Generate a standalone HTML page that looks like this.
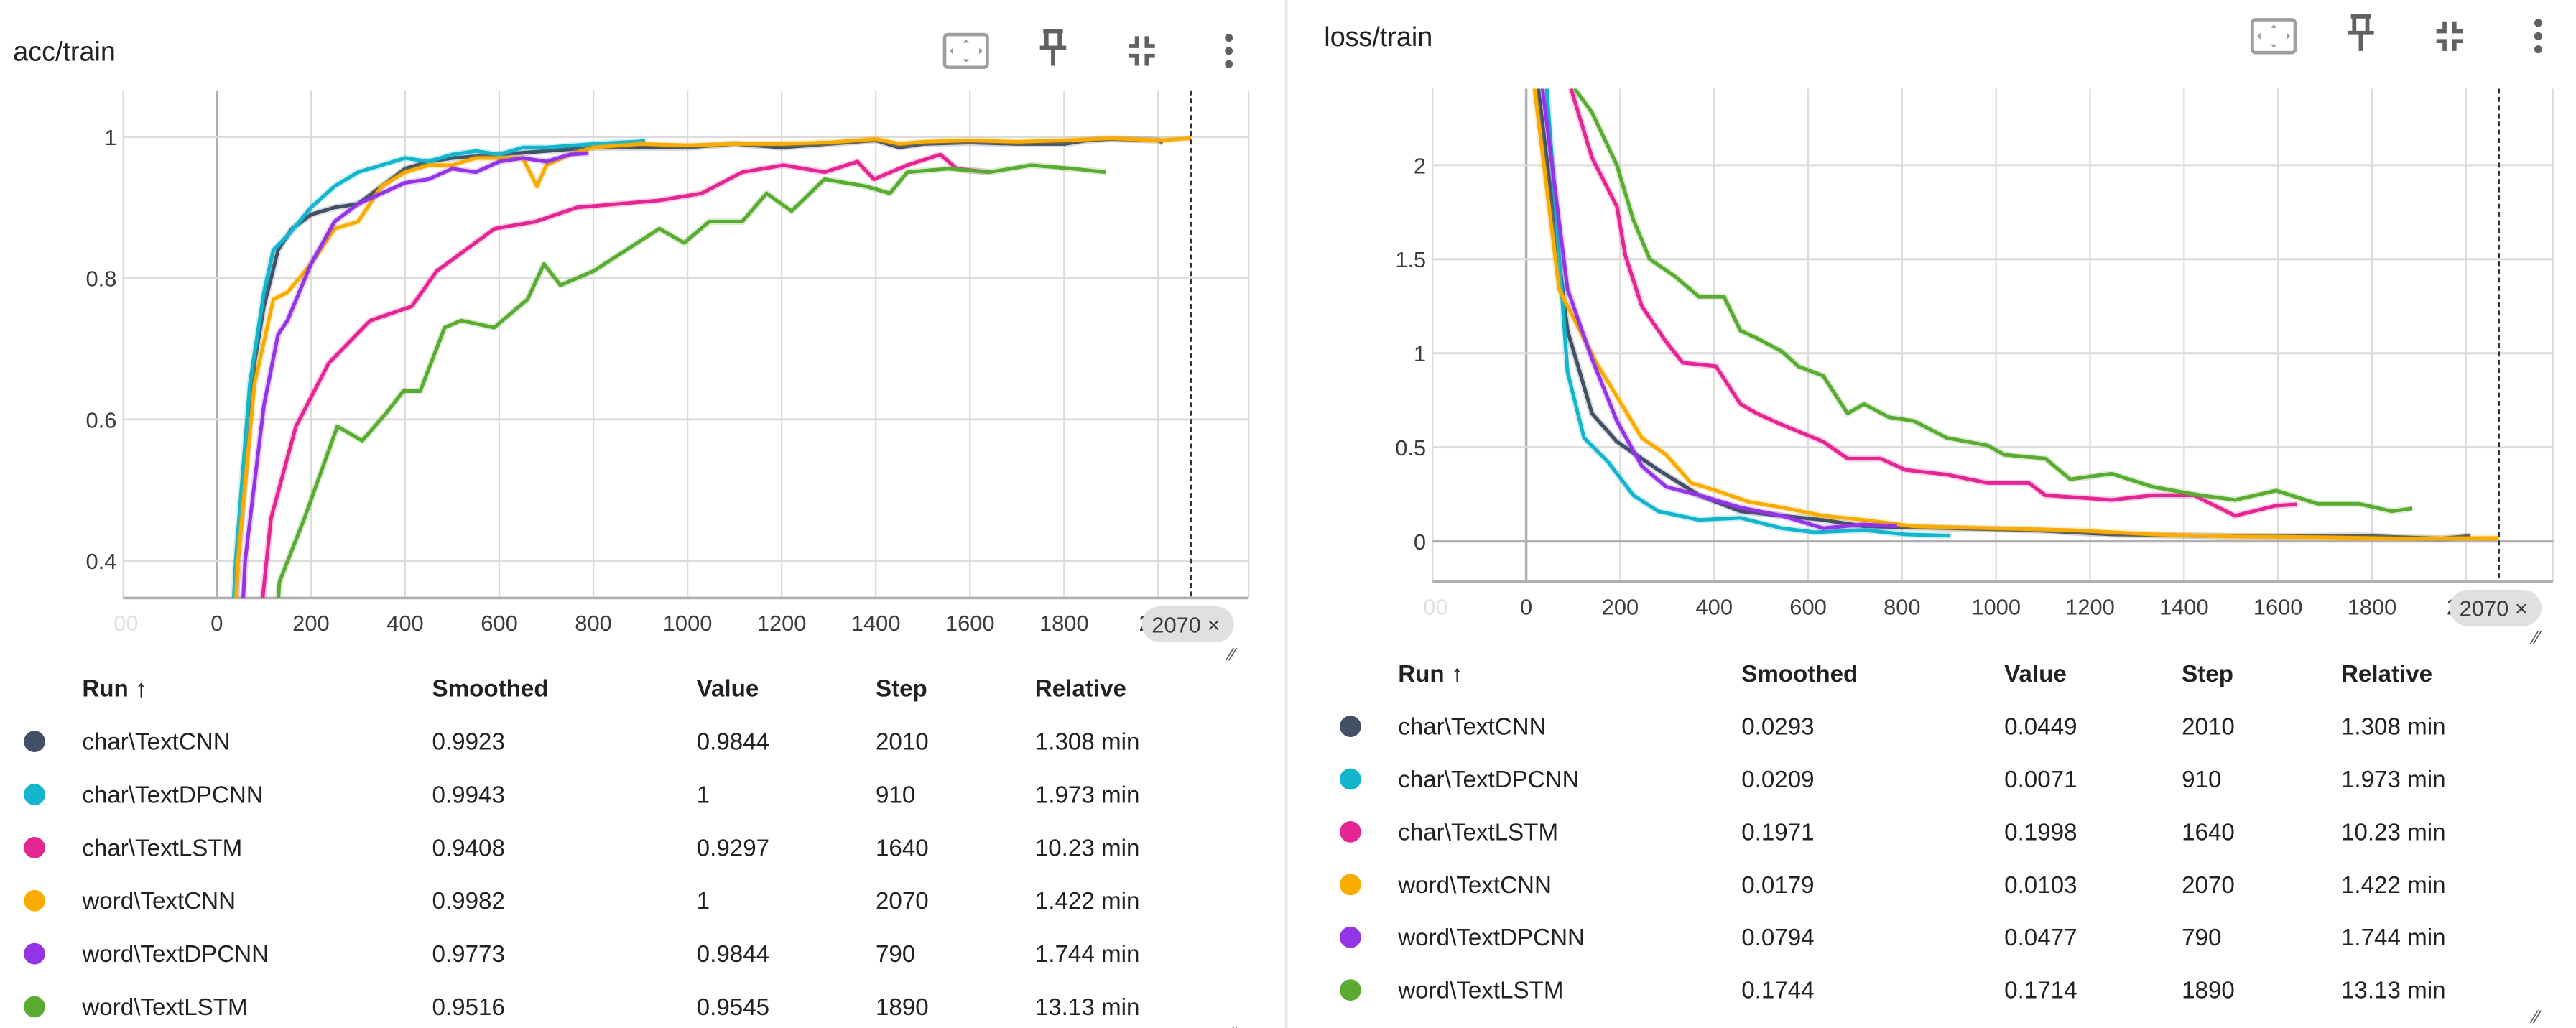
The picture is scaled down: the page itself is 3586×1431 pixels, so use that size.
<!DOCTYPE html>
<html><head><meta charset="utf-8"><style>
html,body{margin:0;padding:0;background:#fff;}
svg{display:block;font-family:"Liberation Sans",sans-serif;}
</style></head><body>
<svg id="root" width="3586" height="1431" viewBox="0 0 1568 625.7" preserveAspectRatio="none" xmlns="http://www.w3.org/2000/svg">
<defs>
<clipPath id="clipA"><rect x="75" y="55" width="685" height="309"/></clipPath>
<clipPath id="clipB"><rect x="872" y="54" width="682" height="300"/></clipPath>
</defs>
<line x1="783" y1="0" x2="783" y2="626" stroke="#e6e6e6" stroke-width="1.5"/>
<g id="panelA"></g>
<g id="panelB"></g>
</svg>
<script>
// ---------- data ----------
const runNames = ["char\\TextCNN","char\\TextDPCNN","char\\TextLSTM","word\\TextCNN","word\\TextDPCNN","word\\TextLSTM"];
const runColors = ["#425066","#12b5cb","#e52592","#f9ab00","#9334e6","#5aab32"];
// acc/train
const accStepsCharCNN = [30,45,80,100,130,160,200,250,300,350,400,450,500,600,700,800,900,1000,1100,1200,1300,1400,1450,1500,1600,1700,1800,1850,1900,2000,2010];
const accCharCNN = [0.2,0.4,0.68,0.76,0.84,0.87,0.89,0.90,0.905,0.93,0.955,0.965,0.97,0.975,0.98,0.985,0.985,0.985,0.99,0.985,0.99,0.995,0.985,0.99,0.992,0.99,0.99,0.995,0.997,0.995,0.992];
const accStepsCharDP = [25,40,70,100,120,150,200,250,300,350,400,450,500,550,600,650,700,800,910];
const accCharDP = [0.2,0.4,0.65,0.78,0.84,0.86,0.90,0.93,0.95,0.96,0.97,0.965,0.975,0.98,0.975,0.985,0.985,0.99,0.994];
const accStepsCharLSTM = [75,90,115,168,238,326,414,467,590,677,765,940,1030,1116,1204,1291,1361,1396,1467,1537,1572,1640];
const accCharLSTM = [0.2,0.3,0.46,0.59,0.68,0.74,0.76,0.81,0.87,0.88,0.90,0.91,0.92,0.95,0.96,0.95,0.965,0.94,0.96,0.975,0.955,0.95];
const accStepsWordCNN = [30,45,80,120,150,200,250,300,350,400,450,500,550,600,650,680,700,750,800,900,1000,1100,1200,1300,1400,1450,1500,1600,1700,1800,1900,2000,2070];
const accWordCNN = [0.2,0.4,0.65,0.77,0.78,0.82,0.87,0.88,0.93,0.95,0.96,0.96,0.97,0.97,0.97,0.93,0.96,0.975,0.985,0.99,0.988,0.99,0.99,0.992,0.997,0.99,0.993,0.995,0.993,0.995,0.998,0.995,0.998];
const accStepsWordDP = [45,60,100,130,150,200,250,300,350,400,450,500,550,600,650,700,750,790];
const accWordDP = [0.2,0.4,0.62,0.72,0.74,0.82,0.88,0.905,0.92,0.935,0.94,0.955,0.95,0.965,0.97,0.965,0.975,0.977];
const accStepsWordLSTM = [115,133,186,256,309,361,396,432,484,519,589,660,695,730,800,870,940,993,1046,1116,1168,1221,1291,1379,1430,1467,1554,1642,1730,1818,1888];
const accWordLSTM = [0.2,0.37,0.46,0.59,0.57,0.61,0.64,0.64,0.73,0.74,0.73,0.77,0.82,0.79,0.81,0.84,0.87,0.85,0.88,0.88,0.92,0.895,0.94,0.93,0.92,0.95,0.955,0.95,0.96,0.955,0.95];
// loss/train
const lossStepsCharCNN = [15,26,88,140,193,281,368,456,544,632,719,895,1070,1246,1421,1596,1772,1947,2010];
const lossCharCNN = [3.0,2.4,1.12,0.68,0.53,0.38,0.245,0.16,0.136,0.114,0.08,0.07,0.06,0.037,0.03,0.026,0.03,0.015,0.029];
const lossStepsCharDP = [30,44,88,123,175,228,281,368,456,544,614,719,807,903];
const lossCharDP = [3.0,2.4,0.90,0.55,0.42,0.245,0.16,0.114,0.125,0.07,0.048,0.06,0.037,0.03];
const lossStepsCharLSTM = [80,96,140,193,211,246,298,333,404,456,491,544,632,684,754,807,895,982,1070,1105,1246,1333,1421,1509,1596,1640];
const lossCharLSTM = [3.0,2.4,2.04,1.78,1.52,1.25,1.06,0.95,0.93,0.73,0.68,0.62,0.53,0.44,0.44,0.38,0.355,0.31,0.31,0.245,0.22,0.245,0.245,0.136,0.19,0.197];
const lossStepsWordCNN = [8,18,70,149,193,246,298,351,404,474,544,632,719,825,982,1158,1333,1509,1684,1860,2070];
const lossWordCNN = [3.0,2.4,1.34,0.95,0.77,0.55,0.46,0.31,0.27,0.21,0.18,0.136,0.114,0.08,0.07,0.06,0.037,0.026,0.022,0.015,0.018];
const lossStepsWordDP = [22,35,88,140,193,246,298,368,456,544,632,719,789];
const lossWordDP = [3.0,2.4,1.34,0.97,0.64,0.40,0.29,0.245,0.18,0.136,0.07,0.09,0.08];
const lossStepsWordLSTM = [90,105,140,193,228,263,316,368,421,456,491,544,579,632,684,719,772,825,895,982,1018,1105,1158,1246,1333,1421,1509,1596,1684,1772,1842,1886];
const lossWordLSTM = [3.0,2.4,2.28,2.0,1.71,1.5,1.41,1.30,1.30,1.12,1.08,1.01,0.93,0.88,0.68,0.73,0.66,0.64,0.55,0.51,0.46,0.44,0.33,0.36,0.29,0.25,0.22,0.27,0.2,0.2,0.16,0.175];
const xTicks = [0,200,400,600,800,1000,1200,1400,1600,1800];
const accTicks = [0.4,0.6,0.8,1];
const lossTicks = [0,0.5,1,1.5,2];
const accSmoothed = ["0.9923","0.9943","0.9408","0.9982","0.9773","0.9516"];
const accValue = ["0.9844","1","0.9297","1","0.9844","0.9545"];
const accStep = ["2010","910","1640","2070","790","1890"];
const accRel = ["1.308 min","1.973 min","10.23 min","1.422 min","1.744 min","13.13 min"];
const lossSmoothed = ["0.0293","0.0209","0.1971","0.0179","0.0794","0.1744"];
const lossValue = ["0.0449","0.0071","0.1998","0.0103","0.0477","0.1714"];
const lossStep = accStep;
const lossRel = accRel;

const NS="http://www.w3.org/2000/svg";
function mk(parent, tag, attrs, text){
  const e=document.createElementNS(NS,tag);
  for(const k in attrs) e.setAttribute(k,attrs[k]);
  if(text!==undefined) e.textContent=text;
  parent.appendChild(e); return e;
}

function panel(g, cfg){
  const {title,tx,ty,iconY,iconX,L,R,T,B,x0,pxPerStep,yAt,yTicks,clip,series,tableY,rowH,cols,vals,fmtTick} = cfg;
  const sx = s => x0 + s*pxPerStep;
  const t = mk(g,'text',{x:tx,y:ty,'font-size':16.5,fill:'#202124'},title);
  
  
  const names=['fit-domain-button','pin-button','collapse-button','more-menu-button'];
  iconX.forEach((ix,i)=>{
    const ig=mk(g,'g',{});
    
    
    if(i===0){
      mk(ig,'rect',{x:ix-13,y:iconY-10,width:26,height:20,rx:2,fill:'none',stroke:'#9e9e9e','stroke-width':2});
      mk(ig,'path',{d:`M${ix-2},${iconY-5}l2,-2l2,2zM${ix-2},${iconY+5}l2,2l2,-2zM${ix-8},${iconY-2}l-2,2l2,2zM${ix+8},${iconY-2}l2,2l-2,2z`,fill:'#9e9e9e'});
    }else if(i===1){
      mk(ig,'path',{d:`M${ix-6},${iconY-12}h12M${ix-4},${iconY-12}v9M${ix+4},${iconY-12}v9M${ix-8},${iconY-2}h16M${ix},${iconY-2}v11`,stroke:'#616161','stroke-width':2.5,fill:'none'});
    }else if(i===2){
      mk(ig,'path',{d:`M${ix-8},${iconY-3}h5v-6M${ix+8},${iconY-3}h-5v-6M${ix-8},${iconY+3}h5v6M${ix+8},${iconY+3}h-5v6`,stroke:'#616161','stroke-width':2.5,fill:'none'});
    }else{
      [-8,0,8].forEach(d=>mk(ig,'circle',{cx:ix,cy:iconY+d,r:2.4,fill:'#616161'}));
    }
  });
  const grid=mk(g,'g',{});  
  xTicks.concat([2000]).forEach(v=>{ mk(grid,'line',{x1:sx(v),x2:sx(v),y1:T,y2:B,stroke:v===0?'#b0b0b0':'#dcdcdc','stroke-width':v===0?1.5:1}); });
  mk(grid,'line',{x1:L,x2:L,y1:T,y2:B,stroke:'#dcdcdc','stroke-width':1});
  mk(grid,'line',{x1:R,x2:R,y1:T,y2:B,stroke:'#dcdcdc','stroke-width':1});
  yTicks.forEach(v=>{ mk(grid,'line',{x1:L,x2:R,y1:yAt(v),y2:yAt(v),stroke:v===0?'#b0b0b0':'#dcdcdc','stroke-width':v===0?1.5:1.3}); });
  mk(grid,'line',{x1:L,x2:R,y1:B,y2:B,stroke:'#b0b0b0','stroke-width':1.6});
  const xl=mk(g,'g',{'font-size':13.5,fill:'#3c3c3c','text-anchor':'middle'});
   
  mk(xl,'text',{x:sx(-200)+2,y:B+20,fill:'#e0e0e0'},'00');
  xTicks.forEach(v=>mk(xl,'text',{x:sx(v),y:B+20},String(v)));
  mk(xl,'text',{x:sx(2000)-8,y:B+20},'2');
  const yl=mk(g,'g',{'font-size':13.5,fill:'#3c3c3c','text-anchor':'end'});
   
  yTicks.forEach(v=>mk(yl,'text',{x:L-4,y:yAt(v)+5},fmtTick(v)));
  const sg=mk(g,'g',{'clip-path':`url(#${clip})`});
   
  series.forEach((s,i)=>{
    const d=s.steps.map((st,j)=>(j?'L':'M')+sx(st).toFixed(2)+','+yAt(s.vals[j]).toFixed(2)).join('');
    const raw=mk(sg,'path',{d,fill:'none',stroke:runColors[i],'stroke-opacity':0.22,'stroke-width':4,'stroke-linejoin':'round'});
    
    
    const p=mk(sg,'path',{d,fill:'none',stroke:runColors[i],'stroke-width':2.2,'stroke-linejoin':'round'});
    
    
  });
  const dl=mk(g,'line',{x1:sx(2070),x2:sx(2070),y1:T,y2:B,stroke:'#333','stroke-width':1.3,'stroke-dasharray':'3,2'});
   
  const chip=mk(g,'g',{});  
  mk(chip,'rect',{x:sx(2070)-30,y:B+5,width:56,height:22,rx:11,fill:'#e0e0e0'});
  mk(chip,'text',{x:sx(2070)-24,y:B+21,'font-size':13.5,fill:'#3c3c3c'},'2070 ×');
  mk(g,'text',{x:R-12,y:B+38,'font-size':11,fill:'#555'},'⁄⁄');
  const tb=mk(g,'g',{'font-size':14.5,fill:'#202124'});
   
  const hdr=['Run ↑','Smoothed','Value','Step','Relative'];
  hdr.forEach((h,i)=>{ const e=mk(tb,'text',{x:cols[i],y:tableY,'font-weight':'bold'},h);
      });
  runNames.forEach((n,r)=>{
    const y=tableY+rowH*(r+1);
    const row=mk(tb,'g',{});
    
    
    mk(row,'circle',{cx:cols[0]-29,cy:y-5,r:6.5,fill:runColors[r]});
    mk(row,'text',{x:cols[0],y:y},n);
    mk(row,'text',{x:cols[1],y:y},vals[0][r]);
    mk(row,'text',{x:cols[2],y:y},vals[1][r]);
    mk(row,'text',{x:cols[3],y:y},vals[2][r]);
    mk(row,'text',{x:cols[4],y:y},vals[3][r]);
  });
  mk(g,'text',{x:R-12,y:tableY+rowH*6+15,'font-size':11,fill:'#555'},'⁄⁄');
}

panel(document.getElementById('panelA'),{
  title:'acc/train',tx:8,ty:37,iconY:31,iconX:[588,641,695,748],
  L:75,R:760,T:55,B:364,x0:132,pxPerStep:57.3/200,
  yAt:v=>83.3+(1-v)*86.0/0.2, yTicks:accTicks, clip:'clipA',
  fmtTick:v=>String(v),
  series:[
    {steps:accStepsCharCNN,vals:accCharCNN},{steps:accStepsCharDP,vals:accCharDP},
    {steps:accStepsCharLSTM,vals:accCharLSTM},{steps:accStepsWordCNN,vals:accWordCNN},
    {steps:accStepsWordDP,vals:accWordDP},{steps:accStepsWordLSTM,vals:accWordLSTM}],
  tableY:424,rowH:32.3,cols:[50,263,424,533,630],
  vals:[accSmoothed,accValue,accStep,accRel]
});
panel(document.getElementById('panelB'),{
  title:'loss/train',tx:806,ty:28,iconY:22,iconX:[1384,1437,1491,1545],
  L:872,R:1554,T:54,B:354,x0:929,pxPerStep:57.2/200,
  yAt:v=>329.5-v*114.5, yTicks:lossTicks, clip:'clipB',
  fmtTick:v=>String(v),
  series:[
    {steps:lossStepsCharCNN,vals:lossCharCNN},{steps:lossStepsCharDP,vals:lossCharDP},
    {steps:lossStepsCharLSTM,vals:lossCharLSTM},{steps:lossStepsWordCNN,vals:lossWordCNN},
    {steps:lossStepsWordDP,vals:lossWordDP},{steps:lossStepsWordLSTM,vals:lossWordLSTM}],
  tableY:415,rowH:32.1,cols:[851,1060,1220,1328,1425],
  vals:[lossSmoothed,lossValue,lossStep,lossRel]
});
</script>
</body></html>
